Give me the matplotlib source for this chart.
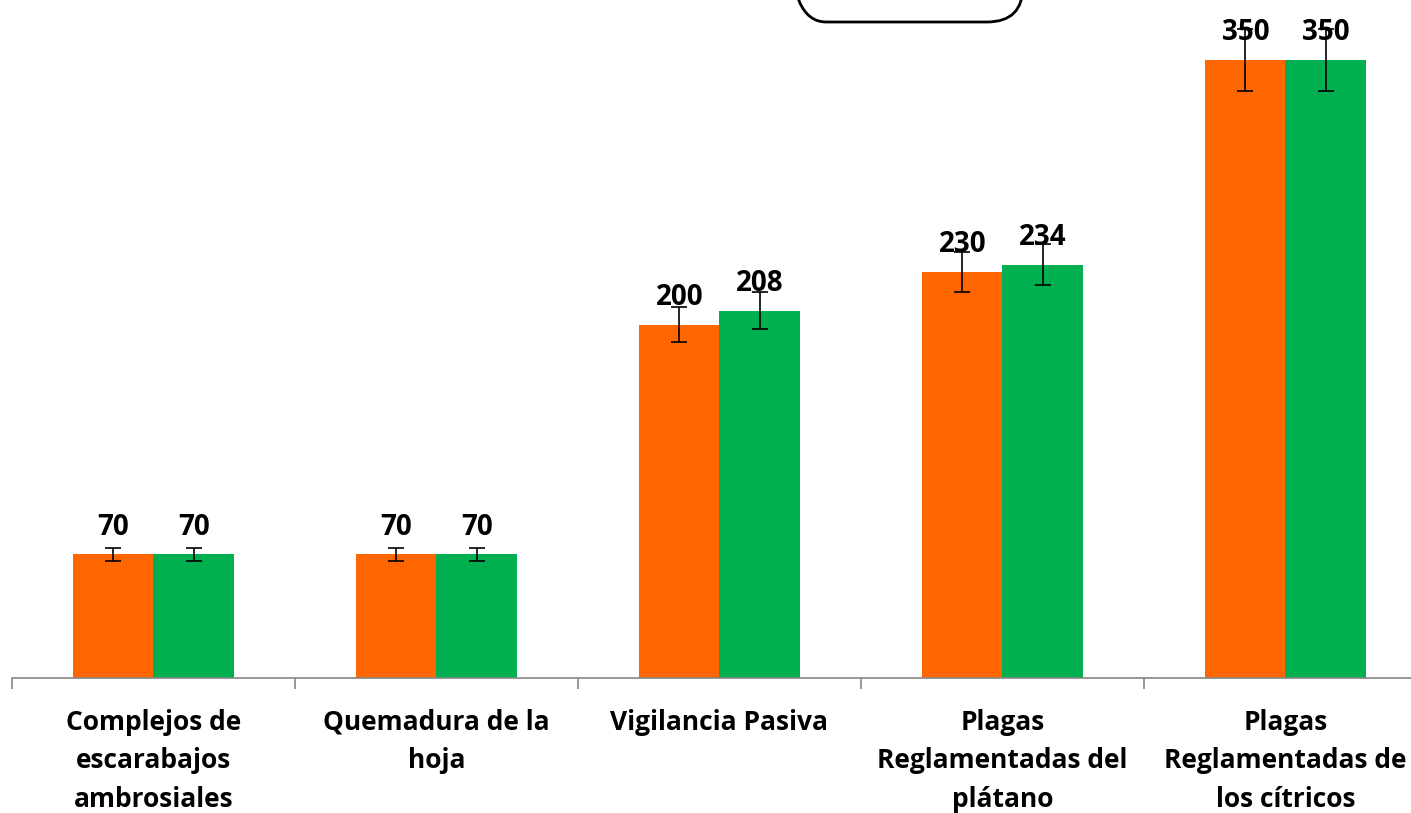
import matplotlib.pyplot as plt
import numpy as np
from matplotlib.patches import FancyBboxPatch
from matplotlib.transforms import IdentityTransform

# Data
categories = [
    "Complejos de\nescarabajos\nambrosiales",
    "Quemadura de la\nhoja",
    "Vigilancia Pasiva",
    "Plagas\nReglamentadas del\nplátano",
    "Plagas\nReglamentadas de\nlos cítricos",
]
serie_naranja = [70, 70, 200, 230, 350]
serie_verde = [70, 70, 208, 234, 350]
error_pct = 0.05

color_naranja = "#FF6600"
color_verde = "#00B050"

plt.rcParams["font.family"] = ["Open Sans", "DejaVu Sans"]

fig = plt.figure(figsize=(14.11, 8.13), dpi=100)
# axes: x from 12px to 1427px, y baseline at 678px, top at 0px
ax = fig.add_axes([12 / 1411, (813 - 678) / 813, 1415 / 1411, 678 / 813])

x = np.arange(len(categories))
width = 0.284

err_n = [v * error_pct for v in serie_naranja]
err_v = [v * error_pct for v in serie_verde]

b1 = ax.bar(x - width / 2, serie_naranja, width, color=color_naranja,
            yerr=err_n, capsize=6, error_kw=dict(elinewidth=1.2, capthick=1.2, ecolor="black"))
b2 = ax.bar(x + width / 2, serie_verde, width, color=color_verde,
            yerr=err_v, capsize=6, error_kw=dict(elinewidth=1.2, capthick=1.2, ecolor="black"))

for bars in (b1, b2):
    for rect in bars:
        h = rect.get_height()
        ax.annotate(f"{h:.0f}", (rect.get_x() + rect.get_width() / 2, h),
                    xytext=(0, 9), textcoords="offset points",
                    ha="center", va="bottom", fontsize=20, fontweight="bold",
                    zorder=5)

ax.set_xlim(-0.5, len(categories) - 0.5)
ax.set_ylim(0, 678 / 1.766)

# Tick marks at category boundaries, labels at centres
ax.set_xticks(np.arange(len(categories) + 1) - 0.5)
ax.set_xticklabels([])
ax.set_xticks(x, minor=True)
ax.set_xticklabels(categories, minor=True, fontsize=19, fontweight="bold",
                   linespacing=1.56)
ax.tick_params(axis="x", which="major", length=8, color="#868686", width=1.2)
ax.tick_params(axis="x", which="minor", length=0, pad=22)
ax.set_yticks([])

for side in ("top", "right", "left"):
    ax.spines[side].set_visible(False)
ax.spines["bottom"].set_color("#868686")
ax.spines["bottom"].set_linewidth(1.2)

# Rounded box cut off at the top of the figure (pixel coordinates)
box = FancyBboxPatch((790, 813 - 22), 233, 120,
                     boxstyle="round,pad=0,rounding_size=36",
                     transform=IdentityTransform(), fill=False,
                     edgecolor="black", linewidth=2)
fig.patches.append(box)

fig.savefig("out.png", dpi=100)
